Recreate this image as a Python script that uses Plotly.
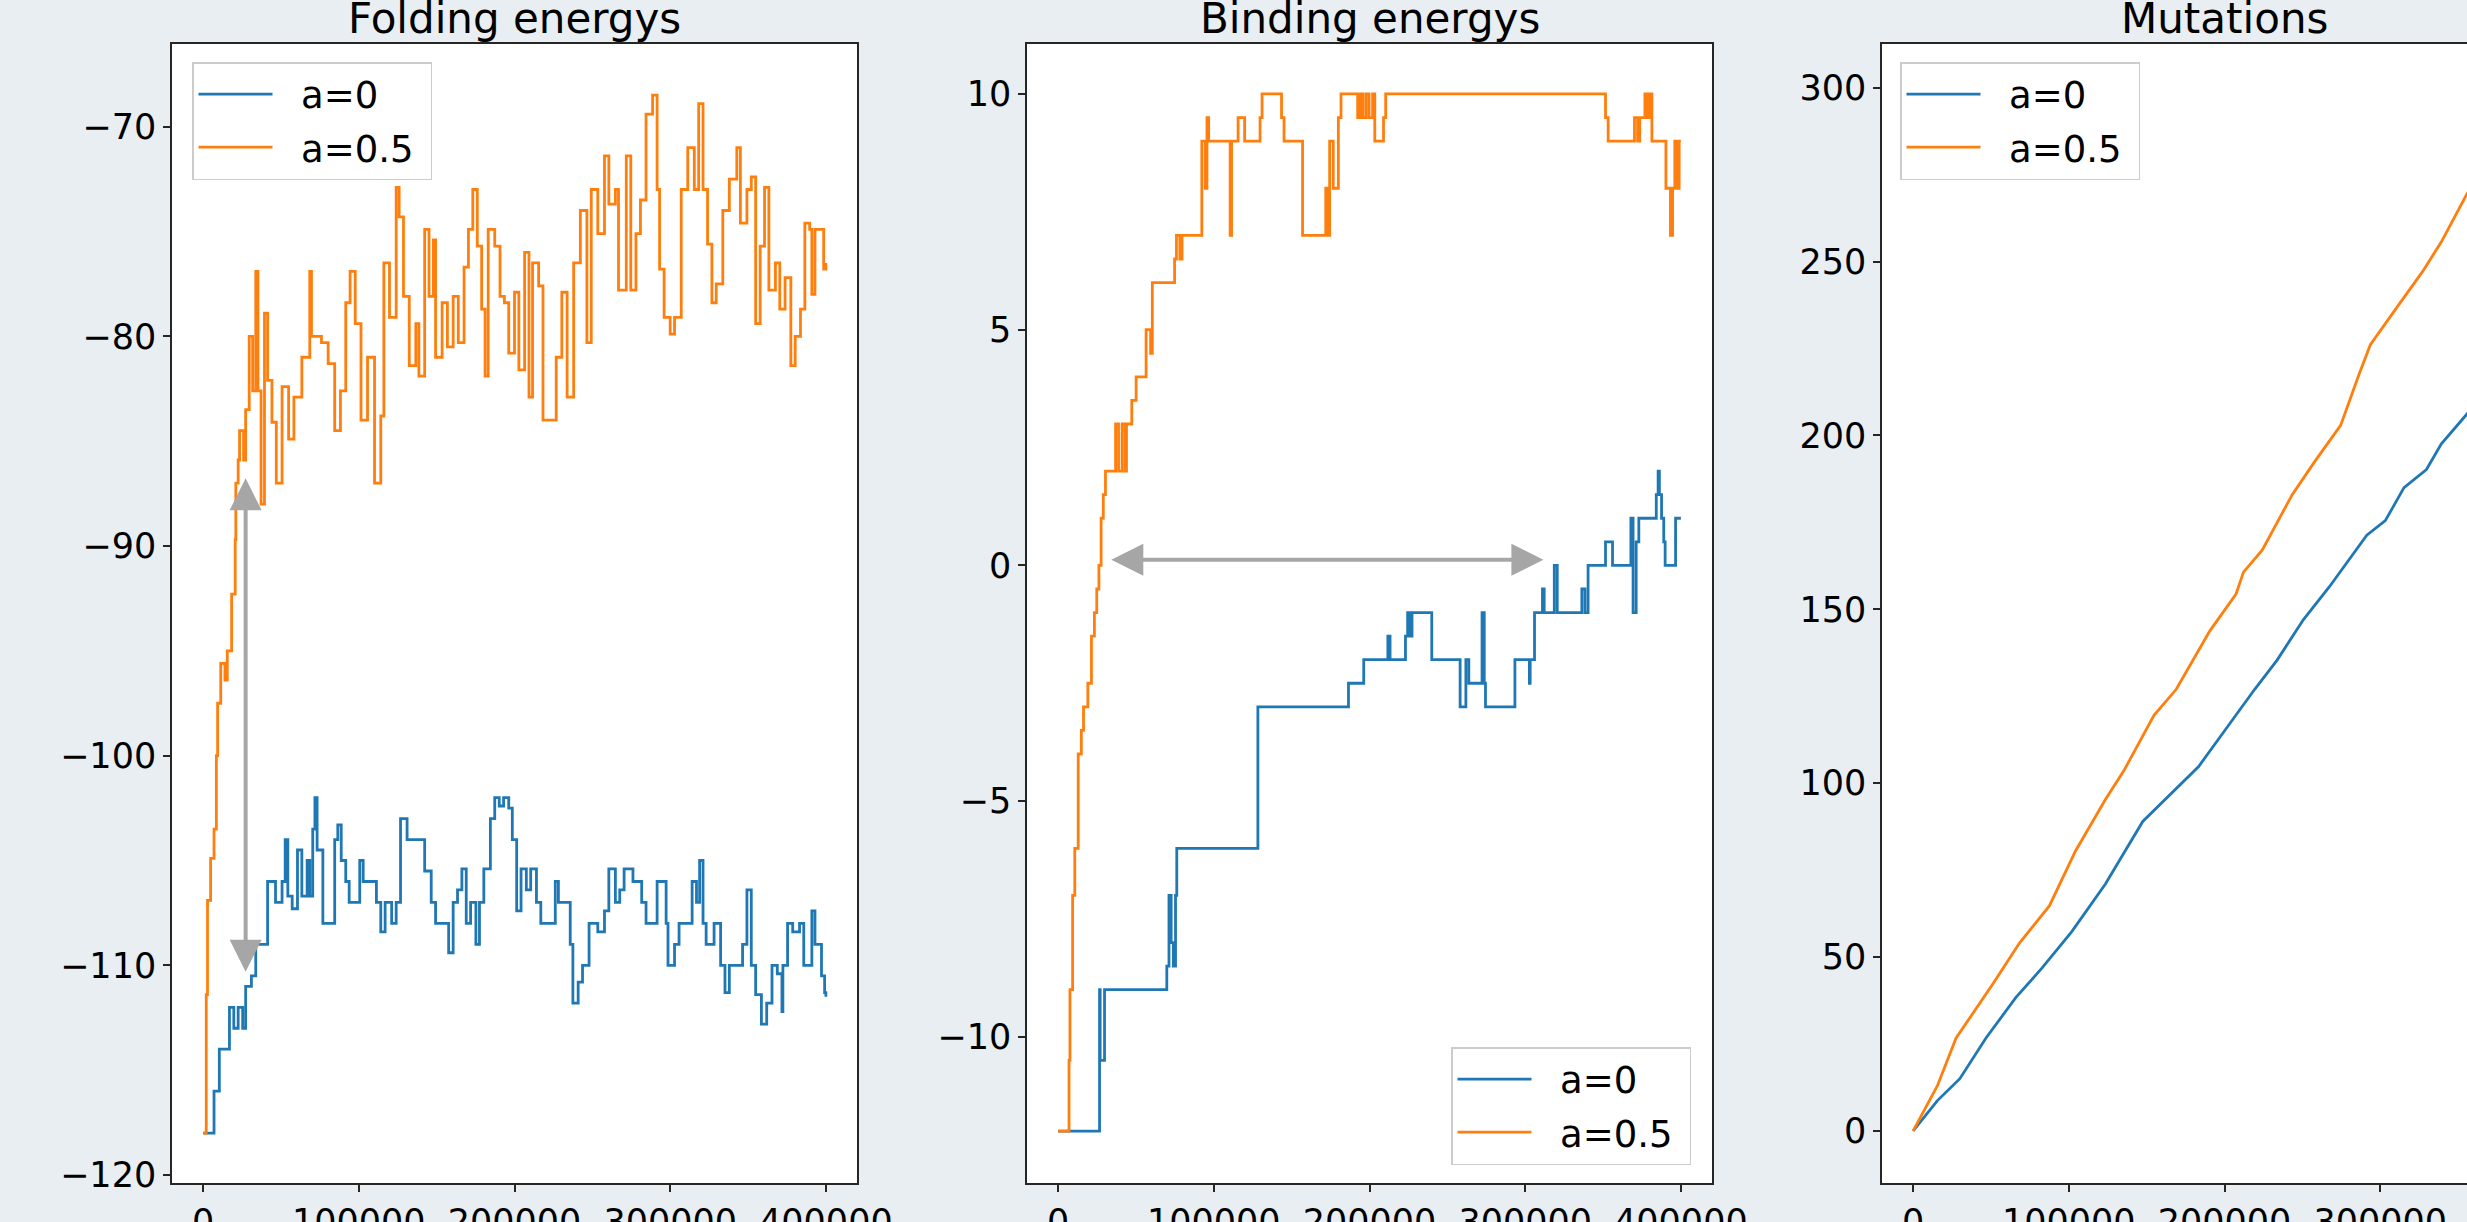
import plotly.graph_objects as go

W, H = 2467, 1222
BLUE = "#1f77b4"
ORANGE = "#ff7f0e"
FONT = "DejaVu Sans"

titles = ["Folding energys", "Binding energys", "Mutations"]
series_names = ["a=0", "a=0.5"]
x_ticks = [0, 100000, 200000, 300000, 400000]

# ---------------- Folding energies (x in thousands of steps) ----------------
fold_a0_xk = [0, 6.5, 7, 9.3, 10.4, 14.1, 16.9, 19.7, 22.5, 25.4, 27.3, 31, 33.8, 38, 41.4, 46.5, 50.7,
              52.7, 54.4, 57.2, 60.6, 63.4, 66.8, 68.5, 70.4, 71.8, 73.2, 76.9, 81.7, 84.5, 86.5, 88.7,
              91.6, 93.8, 98.6, 100.6, 102.8, 109.9, 111.3, 114.1, 116.9, 121.1, 124, 126.8, 128.7, 131,
              139.4, 142.3, 146.5, 149.3, 154.9, 157.7, 160.6, 163.4, 166.2, 169, 171.8, 175.2, 177.5,
              180.3, 184.5, 187.3, 190.2, 193, 196.3, 198.6, 201.4, 204.2, 207.6, 210.4, 214.1, 216.9,
              222.5, 226.2, 228.2, 233.8, 235.8, 237.5, 240.9, 243.7, 247.9, 253.5, 257.8, 260.6, 264.8,
              267.6, 270.4, 276.1, 281.7, 284.5, 290.2, 291.6, 295, 297.4, 298.6, 302.8, 305.7, 309.9,
              314.1, 316.9, 318.9, 321.1, 323.1, 328.2, 332.4, 335.2, 338, 342.3, 346.5, 349.3, 352.1,
              354.9, 358.6, 362, 365.4, 368.8, 371.8, 372.4, 375.4, 378.7, 383.1, 385.8, 388.7, 391, 393,
              395.8, 397.2, 399.2, 400]
fold_a0_y = [-118, -118, -116, -116, -114, -114, -112, -113, -112, -113, -111, -110.5, -109, -109, -106,
             -107, -106, -104, -106.7, -107.3, -104.5, -106.7, -105, -106.7, -103.5, -102, -104.5, -108,
             -108, -104, -103.3, -105, -106, -107, -107, -105, -106, -106, -107, -108.4, -107, -108, -107,
             -103, -103, -104, -104, -105.5, -107, -108, -108, -109.4, -107, -106.4, -105.4, -108, -107,
             -109, -107, -105.4, -103, -102, -102.4, -102, -102.5, -104, -107.4, -105.4, -106.4, -105.4,
             -107, -108, -108, -106, -107, -107, -109, -111.8, -110.8, -110, -108, -108.4, -107.4, -105.4,
             -107, -106.4, -105.4, -106, -107, -108, -108, -106, -106, -108, -110, -109, -108, -108, -106,
             -107, -105, -108, -109, -108, -110, -111.3, -110, -110, -109, -106.4, -110, -111.4, -112.8,
             -111.8, -110, -110.4, -112.2, -110, -108, -108.4, -108, -110, -110, -107.4, -109, -109,
             -110.5, -111.3, -111.5]

fold_a05_xk = [0, 1, 2, 2.8, 4.8, 7, 8.5, 9.3, 11.3, 14, 15.5, 18.3, 20.6, 21, 22.5, 23.4, 26, 27.3, 29.6,
               31.8, 33.8, 35.2, 37.2, 39.4, 41.4, 44.2, 47, 50.7, 54.9, 58.3, 63.4, 68.5, 69.6, 76, 80.3,
               84.5, 88.2, 91.6, 94.4, 97.7, 101.4, 105.6, 110.1, 114.1, 116.1, 119.7, 124, 125.9, 128.7,
               132.4, 136.6, 138.6, 142.3, 145.1, 147.9, 149.3, 153.5, 156.9, 160.6, 163.9, 167.6, 170.4,
               173.2, 176.1, 178.9, 181.1, 183.1, 187.3, 190.7, 193.5, 196.3, 200, 202.8, 206.5, 209.3,
               211.6, 215.5, 218.3, 224.5, 226.8, 230.4, 233.8, 238, 242.3, 246.5, 249.3, 253.5, 257.8,
               260.6, 264.8, 266.8, 271.8, 274.7, 278, 280.9, 284.5, 288.7, 291.6, 293.2, 296.1, 300,
               302.8, 307.1, 311.3, 315.5, 318.3, 321.1, 324, 326.8, 329.6, 333.8, 338, 342.8, 345.1,
               349.3, 352.1, 354.9, 357.8, 360.6, 363.4, 367.6, 370.4, 373.8, 377.5, 380.3, 383.7, 386.5,
               389.6, 391, 393, 397.5, 398.6, 400]
fold_a05_y = [-118, -118, -111.4, -106.9, -104.9, -103.5, -100, -97.5, -95.6, -96.4, -95, -92.3, -89.7, -87,
              -85.9, -84.5, -85.9, -83.5, -80, -82.6, -76.9, -82.6, -88, -78.9, -82.1, -84.1, -87, -82.4,
              -84.9, -82.9, -81, -76.9, -80, -80.3, -81.3, -84.5, -82.6, -78.4, -76.9, -79.4, -84, -81,
              -87, -83.8, -76.5, -79.1, -72.9, -74.3, -78.1, -81.4, -79.4, -81.9, -74.9, -78.1, -75.4, -81,
              -78.4, -80.5, -78.1, -80.3, -76.7, -74.9, -73, -75.7, -78.7, -81.9, -74.9, -75.7, -78.1,
              -78.4, -80.8, -77.9, -81.6, -76, -82.9, -76.5, -77.6, -84, -84, -81, -77.9, -82.9, -76.5,
              -74, -80.3, -73, -75.1, -71.4, -73.7, -73, -77.8, -71.4, -77.8, -75.1, -73.5, -69.4, -68.5,
              -73, -76.8, -79.1, -79.9, -79.1, -73, -71, -73, -68.9, -73, -75.6, -78.4, -77.5, -74, -72.5,
              -71, -74.6, -73, -72.4, -79.4, -75.7, -72.9, -77.8, -76.5, -78.7, -77.2, -81.4, -80, -78.7,
              -74.6, -74.9, -78, -74.9, -74.9, -76.8, -76.5]

# ---------------- Binding energies ----------------
bind_a0_xk = [0, 26.2, 26.6, 27, 29.8, 69.2, 69.8, 71.2, 72.6, 74, 75.4, 76.2, 128.3, 186.5, 196.3, 211.8,
              213.2, 223.1, 224.5, 225.9, 227.3, 240, 258.2, 261.9, 263.8, 272.3, 273.7, 274.5, 293.4,
              302.7, 303.2, 306, 311.1, 312.2, 318.7, 320.6, 336.4, 338.4, 340.4, 351.6, 356.1, 367.9,
              369.3, 371.3, 373, 384.2, 385.4, 386.2, 387.6, 389, 389.9, 396.6, 400]
bind_a0_y = [-12, -12, -9, -10.5, -9, -9, -8.5, -7, -8, -8.5, -7, -6, -3, -2.5, -2, -1.5, -2, -1.5, -1,
             -1.5, -1, -2, -3, -2, -2.5, -1, -2.5, -3, -2, -2.5, -2, -1, -0.5, -1, 0, -1, -0.5, -1, 0,
             0.5, 0, 1, -1, 0.5, 1, 1.5, 2, 1.5, 1, 0.5, 0, 1, 1]

bind_a05_xk = [0, 6.5, 7, 7.6, 9.3, 10.7, 12.9, 14.9, 16.3, 19.1, 21.4, 23.3, 24.8, 26.2, 27.6, 29, 30.4,
               36.9, 38.8, 41.1, 43, 43.9, 47.3, 50.1, 56.5, 59.4, 60.5, 74.8, 76, 78.2, 79.6, 92.3, 94.5,
               95.6, 96.7, 110.5, 111.4, 115.6, 119.8, 129.7, 131, 143.5, 145.1, 157, 171.9, 173.3, 174.4,
               176.7, 180, 181.7, 192.4, 194.1, 195.8, 197.8, 199.7, 202, 203.4, 209, 210.4, 351.6, 353.3,
               370.2, 372.2, 373.6, 376.9, 378.6, 379.8, 381.4, 390.4, 393.3, 394.7, 396.1, 397.5, 398.9,
               400]
bind_a05_y = [-12, -12, -10.5, -9, -7, -6, -4, -3.5, -3, -2.5, -1.5, -1, -0.5, 0, 1, 1.5, 2, 3, 2, 3, 2,
              3, 3.5, 4, 5, 4.5, 6, 6.5, 7, 6.5, 7, 9, 8, 9.5, 9, 7, 9, 9.5, 9, 9.5, 10, 9.5, 9, 7, 8, 7,
              9, 8, 9.5, 10, 9.5, 10, 9.5, 10, 9.5, 10, 9, 9.5, 10, 9.5, 9, 9.5, 9, 9.5, 10, 9.5, 10, 9,
              8, 7, 8, 9, 8, 9, 9]

# ---------------- Mutations ----------------
mut_a0_xk = [0, 15.6, 30, 46.8, 65.9, 82.7, 101.9, 123.5, 147.5, 171.5, 183.4, 195.4, 219.4, 233.8, 250.6,
             267.4, 279.4, 291.4, 303.3, 315.3, 329.7, 339.3, 355.6, 378, 400]
mut_a0_y = [0, 8.7, 15, 26.7, 38.3, 46.8, 57.3, 71, 89, 99.5, 104.8, 112.2, 127, 135.4, 147, 156.5, 163.9,
            171.3, 175.5, 185, 190.2, 197.6, 206.1, 218, 230]
mut_a05_xk = [0, 15.6, 27.6, 51.6, 68.3, 87.5, 104.3, 123.5, 135.5, 154.7, 169, 190.6, 207.4, 212.2, 224.2,
              243.4, 257.8, 274.6, 286.5, 293.7, 310.5, 327.3, 339.3, 355.6, 378, 400]
mut_a05_y = [0, 13, 26.7, 42.5, 54, 64.7, 80.5, 95.3, 103.7, 119.5, 127, 143.8, 154.4, 160.7, 167, 182.9,
             192.4, 202.9, 217.7, 226.1, 236.7, 247.2, 255.7, 269.4, 284, 298]

# annotation arrows (data coordinates)
fold_arrow_x = 27300
fold_arrow_y = [-86.7, -110.3]
bind_arrow_x = [33200, 311700]
bind_arrow_y = 0.12


def k(v):
    return [a * 1000 for a in v]


PAD = "\u00a0\u00a0"  # gap between legend line sample and label

fig = go.Figure()

panels = [
    (fold_a0_xk, fold_a0_y, fold_a05_xk, fold_a05_y, "hv", "legend"),
    (bind_a0_xk, bind_a0_y, bind_a05_xk, bind_a05_y, "hv", "legend2"),
    (mut_a0_xk, mut_a0_y, mut_a05_xk, mut_a05_y, "linear", "legend3"),
]
for i, (x0, y0, x1, y1, shape, leg) in enumerate(panels):
    xa = "x" if i == 0 else f"x{i+1}"
    ya = "y" if i == 0 else f"y{i+1}"
    for name, xs, ys, col, grp in [(series_names[0], x0, y0, BLUE, "g0"), (series_names[1], x1, y1, ORANGE, "g1")]:
        fig.add_trace(go.Scatter(x=k(xs), y=ys, mode="lines", name=PAD + name + "\u00a0",
                                 line=dict(color=col, width=2.8, shape=shape),
                                 xaxis=xa, yaxis=ya, legend=leg, legendgroup=f"{leg}{grp}"))

xdoms = [[172 / W, 857 / W], [1027 / W, 1712 / W], [1882 / W, 1.0]]
ydom = [1 - 1183 / H, 1 - 44 / H]
xranges = [[-20000, 420000], [-20000, 420000], [-20000, 355766]]
yranges = [[-120.38, -66.06], [-13.1, 11.06], [-15.0, 312.6]]
ydticks = [10, 5, 50]

common = dict(showline=True, linecolor="#262626", linewidth=1.6, ticks="outside", ticklen=7, tickwidth=1.6,
              tickcolor="#262626", tickfont=dict(family=FONT, size=35, color="black"), showgrid=False,
              zeroline=False, automargin=False)

layout = dict(width=W, height=H, margin=dict(l=0, r=0, t=0, b=0), paper_bgcolor="#e8eef1",
              plot_bgcolor="white", template="none", font=dict(family=FONT, color="black"))
for i in range(3):
    sx = "xaxis" if i == 0 else f"xaxis{i+1}"
    sy = "yaxis" if i == 0 else f"yaxis{i+1}"
    layout[sx] = dict(common, domain=xdoms[i], range=xranges[i], tickvals=x_ticks,
                      ticktext=[str(t) for t in x_ticks], mirror=True, anchor="y" if i == 0 else f"y{i+1}")
    layout[sy] = dict(common, domain=ydom, range=yranges[i], dtick=ydticks[i], tick0=0,
                      mirror=(i < 2), anchor="x" if i == 0 else f"x{i+1}")

leg_common = dict(font=dict(family=FONT, size=37, color="black"), bgcolor="rgba(255,255,255,0.8)",
                  bordercolor="#cccccc", borderwidth=1.5, tracegroupgap=2, itemwidth=74)
layout["legend"] = dict(leg_common, x=192 / W, y=1 - 62 / H, xanchor="left", yanchor="top")
layout["legend2"] = dict(leg_common, x=1691 / W, y=1 - 1165 / H, xanchor="right", yanchor="bottom")
layout["legend3"] = dict(leg_common, x=1900 / W, y=1 - 62 / H, xanchor="left", yanchor="top")
fig.update_layout(**layout)

# titles
centers = [(172 + 857) / 2, (1027 + 1712) / 2, (1882 + 2567) / 2]
for c, t in zip(centers, titles):
    fig.add_annotation(text=t, x=c / W, y=1 - 19 / H, xref="paper", yref="paper", showarrow=False,
                       xanchor="center", yanchor="middle", font=dict(family=FONT, size=42, color="black"))

ARROW = "#a6a6a6"
fig.add_annotation(x=fold_arrow_x, y=fold_arrow_y[1], ax=fold_arrow_x, ay=fold_arrow_y[0], xref="x", yref="y",
                   axref="x", ayref="y", text="", showarrow=True, arrowhead=2, arrowside="end+start",
                   arrowsize=1.6, arrowwidth=4, arrowcolor=ARROW)
fig.add_annotation(x=bind_arrow_x[1], y=bind_arrow_y, ax=bind_arrow_x[0], ay=bind_arrow_y, xref="x2", yref="y2",
                   axref="x2", ayref="y2", text="", showarrow=True, arrowhead=2, arrowside="end+start",
                   arrowsize=1.6, arrowwidth=4, arrowcolor=ARROW)

fig.write_html("out.html")
